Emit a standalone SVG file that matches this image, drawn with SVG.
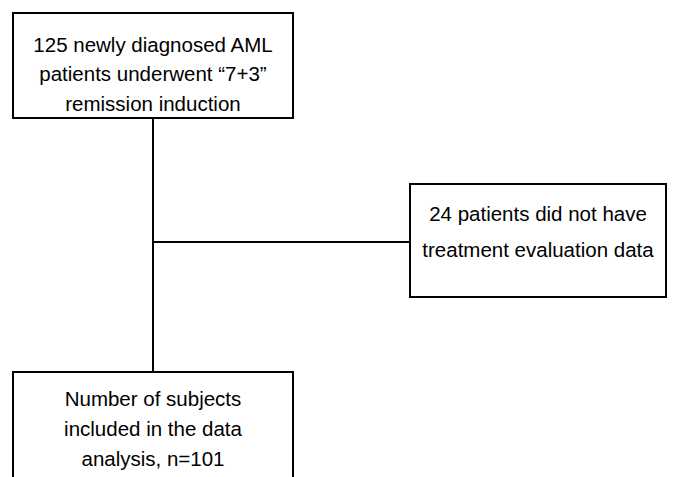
<svg xmlns="http://www.w3.org/2000/svg" width="677" height="477" viewBox="0 0 677 477">
<style>
.box{fill:#fff;stroke:#000;stroke-width:2}
.ln{stroke:#000;stroke-width:2;fill:none}
text{font-family:"Liberation Sans",Arial,sans-serif;font-size:20.5px;fill:#000;text-anchor:middle}
</style>
<rect width="677" height="477" fill="#fff"/>
<g id="connectors">
<line class="ln" x1="153" y1="118" x2="153" y2="372"/>
<line class="ln" x1="153" y1="242" x2="410" y2="242"/>
</g>
<g id="node-start">
<rect class="box" x="13" y="13" width="280" height="105"/>
<text x="153" y="52">125 newly diagnosed AML</text>
<text x="153" y="81">patients underwent “7+3”</text>
<text x="153" y="111">remission induction</text>
</g>
<g id="node-excluded">
<rect class="box" x="410" y="184" width="256" height="113"/>
<text x="538" y="221">24 patients did not have</text>
<text x="538" y="257">treatment evaluation data</text>
</g>
<g id="node-included">
<rect class="box" x="13" y="372" width="280" height="120"/>
<text x="153" y="406">Number of subjects</text>
<text x="153" y="436">included in the data</text>
<text x="153" y="466">analysis, n=101</text>
</g>
</svg>
